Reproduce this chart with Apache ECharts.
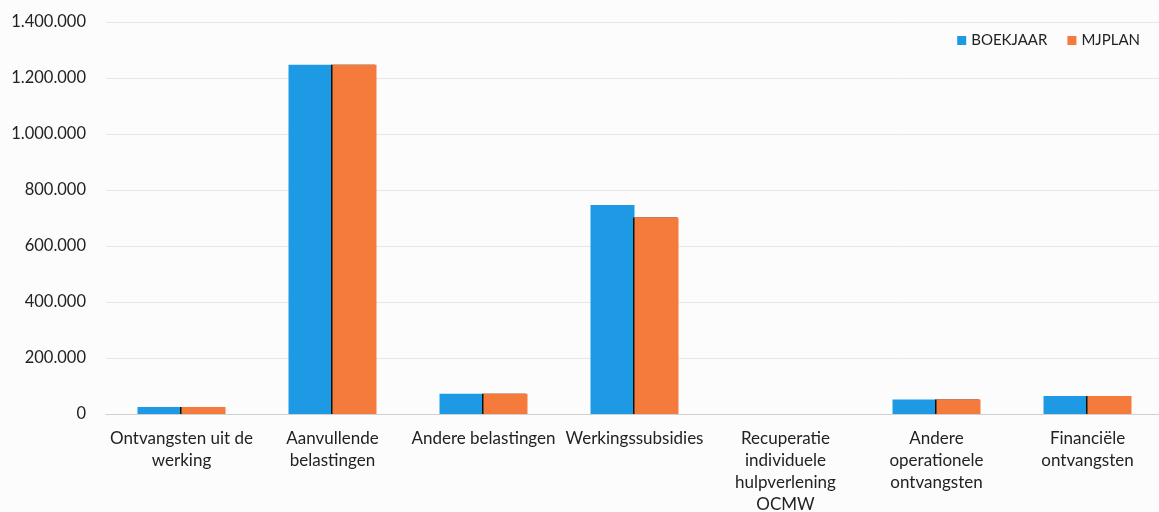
<!DOCTYPE html>
<html>
<head>
<meta charset="utf-8">
<script src="https://cdn.jsdelivr.net/npm/echarts@6/dist/echarts.min.js"></script>
<style>
  html, body { margin: 0; padding: 0; background: #fcfcfd; }
  #myChart { width: 1159px; height: 512px; }
</style>
</head>
<body>
<div id="myChart"></div>
<script>
// categorieën en waarden
const categories = [
  'Ontvangsten uit de\nwerking',
  'Aanvullende\nbelastingen',
  'Andere belastingen',
  'Werkingssubsidies',
  'Recuperatie\nindividuele\nhulpverlening\nOCMW',
  'Andere\noperationele\nontvangsten',
  'Financiële\nontvangsten'
]
const boekjaar = [25000, 1247000, 72000, 746000, 0, 52000, 64000]
const mjplan = [25000, 1247000, 72000, 702000, 0, 52000, 64000]

function fmt(v) {
  return String(v).replace(/\B(?=(\d{3})+(?!\d))/g, '.')
}

let myChart = echarts.init(document.getElementById('myChart'))
myChart.setOption({
  animation: false,
  textStyle: { fontFamily: 'Lato' },
  legend: {
    top: 28,
    right: 14,
    itemWidth: 9,
    itemHeight: 9,
    itemGap: 20,
    itemTextGap: 7,
    icon: 'rect',
    textStyle: { fontSize: 15, color: '#222', fontFamily: 'Lato' },
    data: ['BOEKJAAR', 'MJPLAN']
  },
  grid: { left: 106, top: 22, width: 1057, bottom: 98, containLabel: false, outerBoundsMode: 'none' },
  xAxis: {
    type: 'category',
    data: categories,
    axisTick: { show: false },
    axisLine: { lineStyle: { color: '#d0d0d0' } },
    axisLabel: {
      interval: 0,
      margin: 14,
      fontSize: 17,
      lineHeight: 22,
      color: '#222'
    }
  },
  yAxis: {
    type: 'value',
    min: 0,
    max: 1400000,
    interval: 200000,
    axisLine: { show: false },
    axisTick: { show: false },
    axisLabel: {
      margin: 20,
      fontSize: 16.5,
      color: '#222',
      formatter: fmt
    },
    splitLine: { lineStyle: { color: '#e6e6e8' } }
  },
  series: [
    {
      name: 'BOEKJAAR',
      type: 'bar',
      data: boekjaar,
      barWidth: 44,
      barGap: '0%',
      itemStyle: { color: '#1e9ae4' }
    },
    {
      name: 'MJPLAN',
      type: 'bar',
      data: mjplan,
      barWidth: 44,
      itemStyle: {
        color: '#f47b3b',
        shadowColor: '#111',
        shadowOffsetX: -1.5,
        shadowBlur: 0
      }
    }
  ]
})
</script>
</body>
</html>
